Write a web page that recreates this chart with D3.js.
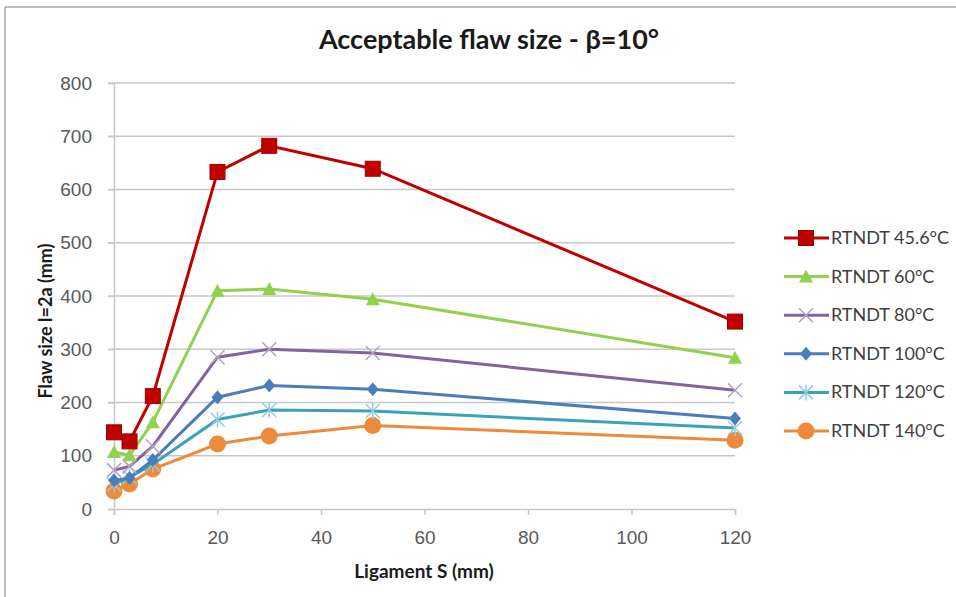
<!DOCTYPE html>
<html>
<head>
<meta charset="utf-8">
<script src="https://cdn.jsdelivr.net/npm/d3@7"></script>
<style>
  body { margin: 0; background: #fff; }
  svg { font-family: Lato, "Open Sans", sans-serif; }
</style>
</head>
<body>
<div id="chart"></div>
<script>
// Ligament S (mm) sample points
const ligament = [0, 3, 7.5, 20, 30, 50, 120];

const seriesNames = ["RTNDT 45.6°C", "RTNDT 60°C", "RTNDT 80°C", "RTNDT 100°C", "RTNDT 120°C", "RTNDT 140°C"];

// flaw size l=2a (mm), one list per series
const rt456 = [144, 127, 212, 633, 682, 639, 352];
const rt60  = [107, 101, 163, 410, 413, 394, 284];
const rt80  = [73, 80, 118, 285, 300, 293, 223];
const rt100 = [54, 58, 92, 210, 232, 225, 170];
const rt120 = [46, 60, 84, 168, 186, 184, 152];
const rt140 = [34, 47, 75, 122, 137, 157, 129];

const xTicks = [0, 20, 40, 60, 80, 100, 120];
const yTicks = [0, 100, 200, 300, 400, 500, 600, 700, 800];

const colors = ["#c00000", "#92d050", "#8064a2", "#4a7ebb", "#3aa3b8", "#ec8a3e"];
const markers = ["square", "triangle", "x", "diamond", "star", "circle"];
const allValues = [rt456, rt60, rt80, rt100, rt120, rt140];

const width = 956, height = 597;
const margin = { left: 114, right: 221, top: 83, bottom: 88 };

const svg = d3.select("#chart").append("svg")
    .attr("width", width)
    .attr("height", height);

// outer frame (only top/left visible in reference)
svg.append("line").attr("x1", 5).attr("x2", width).attr("y1", 7).attr("y2", 7)
    .attr("stroke", "#7f7f7f").attr("stroke-width", 1);
svg.append("line").attr("x1", 5).attr("x2", 5).attr("y1", 7).attr("y2", height)
    .attr("stroke", "#7f7f7f").attr("stroke-width", 1);

const x = d3.scaleLinear().domain([0, 120]).range([margin.left, width - margin.right]);
const y = d3.scaleLinear().domain([0, 800]).range([height - margin.bottom, margin.top]);

// gridlines
svg.append("g")
    .selectAll("line")
    .data(yTicks.filter(d => d > 0))
    .join("line")
    .attr("x1", x(0) - 6)
    .attr("x2", x(120))
    .attr("y1", d => y(d))
    .attr("y2", d => y(d))
    .attr("stroke", "#c8c8c8")
    .attr("stroke-width", 1.5);

// y axis
const yAxis = svg.append("g")
    .attr("transform", `translate(${x(0)},0)`)
    .call(d3.axisLeft(y).tickValues(yTicks).tickSize(6).tickPadding(16));
yAxis.select(".domain").attr("stroke", "#c8c8c8").attr("stroke-width", 1.5);
yAxis.selectAll(".tick line").attr("stroke", "#c8c8c8").attr("stroke-width", 1.5);
yAxis.selectAll("text").attr("fill", "#595959").attr("font-size", 19);

// x axis
const xAxis = svg.append("g")
    .attr("transform", `translate(0,${y(0)})`)
    .call(d3.axisBottom(x).tickValues(xTicks).tickSize(6).tickPadding(16).tickSizeOuter(6));
xAxis.select(".domain").attr("stroke", "#c8c8c8").attr("stroke-width", 1.5);
xAxis.selectAll(".tick line").attr("stroke", "#c8c8c8").attr("stroke-width", 1.5);
xAxis.selectAll("text").attr("fill", "#595959").attr("font-size", 19);

// titles
svg.append("text")
    .attr("x", 489).attr("y", 49)
    .attr("text-anchor", "middle")
    .attr("font-size", 27).attr("font-weight", "bold").attr("fill", "#1a1a1a")
    .text("Acceptable flaw size - β=10°");

svg.append("text")
    .attr("x", 424).attr("y", 578)
    .attr("text-anchor", "middle")
    .attr("font-size", 19).attr("font-weight", "bold").attr("fill", "#1a1a1a")
    .text("Ligament S (mm)");

svg.append("text")
    .attr("transform", `translate(52,321) rotate(-90)`)
    .attr("text-anchor", "middle")
    .attr("font-size", 18).attr("font-weight", "bold").attr("fill", "#1a1a1a")
    .text("Flaw size l=2a (mm)");

// marker drawing
function drawMarker(g, type, color, cx, cy) {
    if (type === "square") {
        g.append("rect").attr("x", cx - 7.5).attr("y", cy - 7.5).attr("width", 15).attr("height", 15)
            .attr("fill", color).attr("stroke", "#9e0000").attr("stroke-width", 1);
    } else if (type === "triangle") {
        g.append("path").attr("d", `M${cx},${cy - 7}L${cx + 7},${cy + 6}L${cx - 7},${cy + 6}Z`)
            .attr("fill", color);
    } else if (type === "diamond") {
        g.append("path").attr("d", `M${cx},${cy - 7}L${cx + 6},${cy}L${cx},${cy + 7}L${cx - 6},${cy}Z`)
            .attr("fill", color);
    } else if (type === "circle") {
        g.append("circle").attr("cx", cx).attr("cy", cy).attr("r", 8.5).attr("fill", color);
    } else if (type === "x") {
        g.append("path").attr("d", `M${cx - 7},${cy - 7}L${cx + 7},${cy + 7}M${cx - 7},${cy + 7}L${cx + 7},${cy - 7}`)
            .attr("stroke", "#b3a2c7").attr("stroke-width", 1.5).attr("fill", "none");
    } else if (type === "star") {
        g.append("path").attr("d", `M${cx - 7},${cy - 7}L${cx + 7},${cy + 7}M${cx - 7},${cy + 7}L${cx + 7},${cy - 7}M${cx},${cy - 8}L${cx},${cy + 8}`)
            .attr("stroke", "#93cddd").attr("stroke-width", 1.5).attr("fill", "none");
    }
}

const line = d3.line()
    .x((d, i) => x(ligament[i]))
    .y(d => y(d));

// draw series bottom to top so red is on top
const plot = svg.append("g");
for (let s = allValues.length - 1; s >= 0; s--) {
    const g = plot.append("g");
    g.append("path")
        .attr("d", line(allValues[s]))
        .attr("fill", "none")
        .attr("stroke", colors[s])
        .attr("stroke-width", 3);
    allValues[s].forEach((v, i) => drawMarker(g, markers[s], colors[s], x(ligament[i]), y(v)));
}

// legend
const legend = svg.append("g");
seriesNames.forEach((name, s) => {
    const ly = 238 + s * 38.6;
    const g = legend.append("g");
    g.append("line").attr("x1", 784).attr("x2", 829).attr("y1", ly).attr("y2", ly)
        .attr("stroke", colors[s]).attr("stroke-width", 3);
    drawMarker(g, markers[s], colors[s], 806, ly);
    g.append("text").attr("x", 831).attr("y", ly + 6)
        .attr("font-size", 18).attr("fill", "#404040")
        .text(name);
});
</script>
</body>
</html>
